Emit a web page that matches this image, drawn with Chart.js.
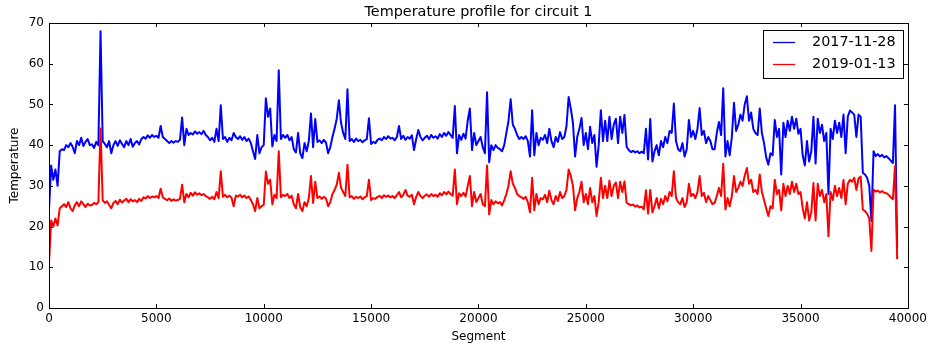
<!DOCTYPE html>
<html><head><meta charset="utf-8">
<script src="https://cdn.jsdelivr.net/npm/chart.js@4.4.1/dist/chart.umd.min.js"></script>
<style>html,body{margin:0;padding:0;background:#fff;overflow:hidden}canvas{display:block}</style>
</head><body>
<canvas id="c" width="931" height="345"></canvas>
<script>
const chartTitle = 'Temperature profile for circuit 1';
const xAxisTitle = 'Segment';
const yAxisTitle = 'Temperature';
const seriesLabels = ['2017-11-28', '2019-01-13'];
const xTickValues = [0, 5000, 10000, 15000, 20000, 25000, 30000, 35000, 40000];
const yTickValues = [0, 10, 20, 30, 40, 50, 60, 70];
const segmentStep = 100;

const temps20171128 = [
24,35,31.5,34,30,38.5,39,38.8,40,39.5,
40.5,39.6,38,41,40,41.8,39.8,40.8,41.5,40,
40.2,39.3,40.8,40,68,41,40.3,39.5,41,38,
40,41,39.8,41.2,40.3,39.5,41,40,41.5,39.6,
40.5,41,40.2,41.5,42,41.6,42.4,41.8,42.5,42,
42.3,41.8,44.7,42,41.5,41,40.5,41,40.6,41,
40.8,41.3,46.8,40,44,42.5,43,42.6,43.4,42.8,
43.2,42.7,43.5,42.5,42,41.2,41.8,40.8,44,41,
49.8,41.5,42,40.8,41.8,41.2,43,42,41.5,42.2,
41.3,42,41,41.6,40.5,38.5,36.6,42.5,38,39.5,
40,51.5,47,49,39.7,42.5,41,58.4,41.5,42.5,
41.8,42.5,41.2,42,39,38.2,43,38,36.8,40.5,
38.5,41,47.8,39.5,46.4,40.8,41.2,40.5,41.3,40.6,
38,39.5,42,44,46.5,51,45.5,43,41.5,53.7,
41,41.5,40.8,41.6,41,41.3,40.7,41.2,41.5,46.6,
40.3,40.8,40.5,41.3,41.6,41.2,42,41.5,42.2,41.6,
41.8,41.2,42,44.7,41.5,42.3,41.3,42,41.6,42.4,
38.8,41.5,43.7,42,41.2,41.8,42.3,41.5,42.5,41.8,
42.2,41.6,42.7,42,43,42.3,43.2,42.5,41.8,49.6,
38,42.5,41.3,42.8,41.6,46,49,38.8,43,40,
41,42,39.5,38,53,35.8,40,38.8,40,39.3,
39,38.5,40,43,46,51.3,45,44,42.5,41.5,
42,41.5,42.2,41,37.2,48.6,37.5,43,40,41.8,
41.3,42.5,40.5,44,41,39.5,42,40.8,43.2,41.5,
42,44.7,51.8,49,45.5,37.2,42,44,46.7,40,
43,39,44.5,40.5,42.5,34.7,40,48.6,41,46,
41,47,41.5,45,46.5,40.5,47,43,47.4,39.6,
38.8,38.3,38.6,38.2,38.5,38,38.4,38,44,36.5,
46.4,36,38.5,40,37.5,41,39.5,42,40.5,43.5,
43,50.2,41,39,38.5,40.5,37.2,39,46.2,42,
43.5,41.5,44,49.1,42.5,43.5,40.5,42,41,39,
39,43,45.7,42.5,54,37.2,41,37.5,42,50.4,
43.5,45,47.5,46,50,52,46,48,44,43,
42.5,49,43,40.5,37,35.2,38,37.5,46.2,42,
44,32.8,45.5,42,46,43.5,47,44,46.5,42.8,
44,37.5,35,41,36,38.5,47,35.5,46.5,43,
45,41,43,28,44,41.5,46,43,45.5,42,
47.5,38,47,48.5,48,47.5,42,47.5,47,33.2,
32.8,32,30,21.4,38.5,37.3,37.8,37.2,37.6,37,
37.3,36.8,36.2,35.6,49.8,14.8
];

const temps20190113 = [
11,21.5,20,22,20.3,24.5,25,25.5,24.8,26,
24.5,23.8,25.2,26,25,26.2,25.5,24.8,25.6,25.2,
25.3,25.8,25.5,26,44.1,26.5,25.8,26.2,25.3,24.5,
25.8,26.3,25.5,26.6,25.9,26.4,26.8,26,26.7,26.2,
26.5,26,26.8,26.3,27.2,26.9,27.5,27,27.4,27.2,
27.5,27,29.3,27.2,26.8,26.5,26.9,26.3,26.7,26.4,
26.5,26.8,30.3,26,28,27.2,28.3,27.6,28.4,27.8,
28.2,27.7,28,27.5,27.2,26.8,27.3,26.7,28.5,27,
33.6,27.3,27.8,27.2,27.6,27.1,25,27.6,27.4,27.8,
27.2,27.6,27,27.4,26.5,25.5,23.8,27,24.5,25,
25.3,33.5,30.5,31.5,25.5,27.8,27,38.5,27.2,27.8,
27.5,28,27,27.6,25.5,24.5,28,24.8,23.8,26,
25,27,32.4,25.8,31,27,27.4,26.8,27.3,26.9,
25,26,28,29,30.3,33.2,29.5,28.5,27.5,35.2,
27.2,27.5,26.8,27.3,27,27.4,26.7,27.2,27.5,31.5,
26.5,27,26.8,27.3,27.5,27,27.7,27.3,27.6,27.2,
27.5,27,27.7,28.5,27.2,27.8,29,27.6,27.3,27.8,
25.5,27.3,28.5,27.5,27,27.6,27.9,27.3,28,27.5,
27.8,27.3,28.2,27.7,28.5,27.9,28.6,28,27.6,34,
25.5,28.2,27.5,28.3,27.4,30,32.4,25,28.5,26,
27,28,25.5,25,35,23,26.5,25.5,26.2,25.7,
26,25.2,26.5,28,30,33.6,30.5,29.5,28,27.5,
27.2,26.8,27.3,26,23.5,32,24,28,25.5,27,
26.7,27.8,26,28.8,26.5,25.5,27.5,26.3,28.5,27,
27.5,29,34,32.5,30,24,27,28.5,31,26,
28,25.5,29.5,26,27.5,22.6,26,32,27,30,
27,31.3,27.5,30,30.8,27,31,28.5,31.1,25.8,
25.5,25.2,25.4,24.9,25.2,24.7,24.9,24.2,28.9,23.2,
29,23.5,25,27,24.5,26.8,25.5,27.5,26.2,28.5,
27.5,33.6,27,26,25.5,27,24.8,26,30.5,27.5,
28,27,28.5,32.4,27.5,28.3,26,27.5,26.5,25.5,
25.8,27.5,29.5,27.5,35.4,24.2,27,25,27.5,32.4,
28.5,29.5,31,30,32.5,34.4,30.5,31.5,28.5,29,
28,32.8,28.5,26.5,24.5,22.6,25,24.5,31.5,28,
29,24,30.5,27.5,30,28,31,28.5,30.5,28,
28.5,24.5,22,26,21.5,23.5,30.7,21.5,30.5,27.5,
29,26,28,17.6,28.5,26.5,30,27.5,29.5,27,
31.5,25.5,30.5,31.5,31,32,29,31.8,32.3,24.2,
23.8,23.2,22,14,29.1,28.6,28.8,28.4,28.7,28.3,
28.2,27.8,27.2,26.7,34.8,12
];

const seriesColors = ['#0000ff', '#ff0000'];
const FONT = '"DejaVu Sans", "Liberation Sans", sans-serif';

const toPoints = arr => arr.map((v, i) => ({ x: i * segmentStep, y: v }));

const framePlugin = {
  id: 'mplFrame',
  afterDatasetsDraw(chart) {
    const { ctx, chartArea: a, scales: { x, y } } = chart;
    ctx.save();
    ctx.strokeStyle = '#000';
    ctx.lineWidth = 1;
    ctx.beginPath();
    xTickValues.forEach(v => {
      const px = Math.round(x.getPixelForValue(v)) + 0.5;
      ctx.moveTo(px, a.bottom); ctx.lineTo(px, a.bottom - 4);
      ctx.moveTo(px, a.top); ctx.lineTo(px, a.top + 4);
    });
    yTickValues.forEach(v => {
      const py = Math.round(y.getPixelForValue(v)) + 0.5;
      ctx.moveTo(a.left, py); ctx.lineTo(a.left + 4, py);
      ctx.moveTo(a.right, py); ctx.lineTo(a.right - 4, py);
    });
    ctx.stroke();
    ctx.strokeRect(Math.round(a.left) + 0.5, Math.round(a.top) + 0.5,
                   Math.round(a.right - a.left), Math.round(a.bottom - a.top));

    // title
    ctx.fillStyle = '#000';
    ctx.font = '14.4px ' + FONT;
    ctx.textAlign = 'center';
    ctx.textBaseline = 'middle';
    ctx.fillText(chartTitle, (a.left + a.right) / 2, 12);

    // legend inside plot, upper right
    const bx = 763.5, by = 30.5, bw = 140, bh = 48;
    ctx.fillStyle = '#fff';
    ctx.fillRect(bx, by, bw, bh);
    ctx.strokeStyle = '#000';
    ctx.strokeRect(bx, by, bw, bh);
    ctx.font = '14.4px ' + FONT;
    ctx.textAlign = 'left';
    chart.data.datasets.forEach((ds, i) => {
      const ly = 42.5 + i * 22;
      ctx.strokeStyle = ds.borderColor;
      ctx.lineWidth = 1.3;
      ctx.beginPath();
      ctx.moveTo(773, ly); ctx.lineTo(795, ly);
      ctx.stroke();
      ctx.fillStyle = '#000';
      ctx.fillText(ds.label, 812, ly);
    });
    ctx.restore();
  }
};

new Chart(document.getElementById('c'), {
  type: 'line',
  data: {
    datasets: [
      { label: seriesLabels[0], data: toPoints(temps20171128), borderColor: seriesColors[0],
        borderWidth: 2, borderJoinStyle: 'round', pointRadius: 0, tension: 0, fill: false, order: 1 },
      { label: seriesLabels[1], data: toPoints(temps20190113), borderColor: seriesColors[1],
        borderWidth: 2, borderJoinStyle: 'round', pointRadius: 0, tension: 0, fill: false, order: 0 }
    ]
  },
  options: {
    responsive: false,
    animation: false,
    devicePixelRatio: 1,
    layout: { padding: { top: 23, right: 20, left: 0, bottom: 0 } },
    plugins: { legend: { display: false }, title: { display: false }, tooltip: { enabled: false } },
    scales: {
      x: {
        type: 'linear', min: 0, max: 40000,
        afterBuildTicks: s => { s.ticks = xTickValues.map(v => ({ value: v })); },
        afterFit: s => { s.height = 37; },
        ticks: { callback: v => String(v), color: '#000', font: { family: FONT, size: 12 },
                 padding: 4, maxRotation: 0, autoSkip: false },
        grid: { display: false, drawTicks: false },
        border: { display: false },
        title: { display: true, text: xAxisTitle, color: '#000', font: { family: FONT, size: 12 },
                 padding: { top: 0, bottom: 1 } }
      },
      y: {
        type: 'linear', min: 0, max: 70,
        afterBuildTicks: s => { s.ticks = yTickValues.map(v => ({ value: v })); },
        afterFit: s => { s.width = 49; },
        ticks: { callback: v => String(v), color: '#000', font: { family: FONT, size: 12 },
                 padding: 5, autoSkip: false },
        grid: { display: false, drawTicks: false },
        border: { display: false },
        title: { display: true, text: yAxisTitle, color: '#000', font: { family: FONT, size: 12 },
                 padding: { top: 8, bottom: 0 } }
      }
    }
  },
  plugins: [framePlugin]
});
</script>
</body></html>
